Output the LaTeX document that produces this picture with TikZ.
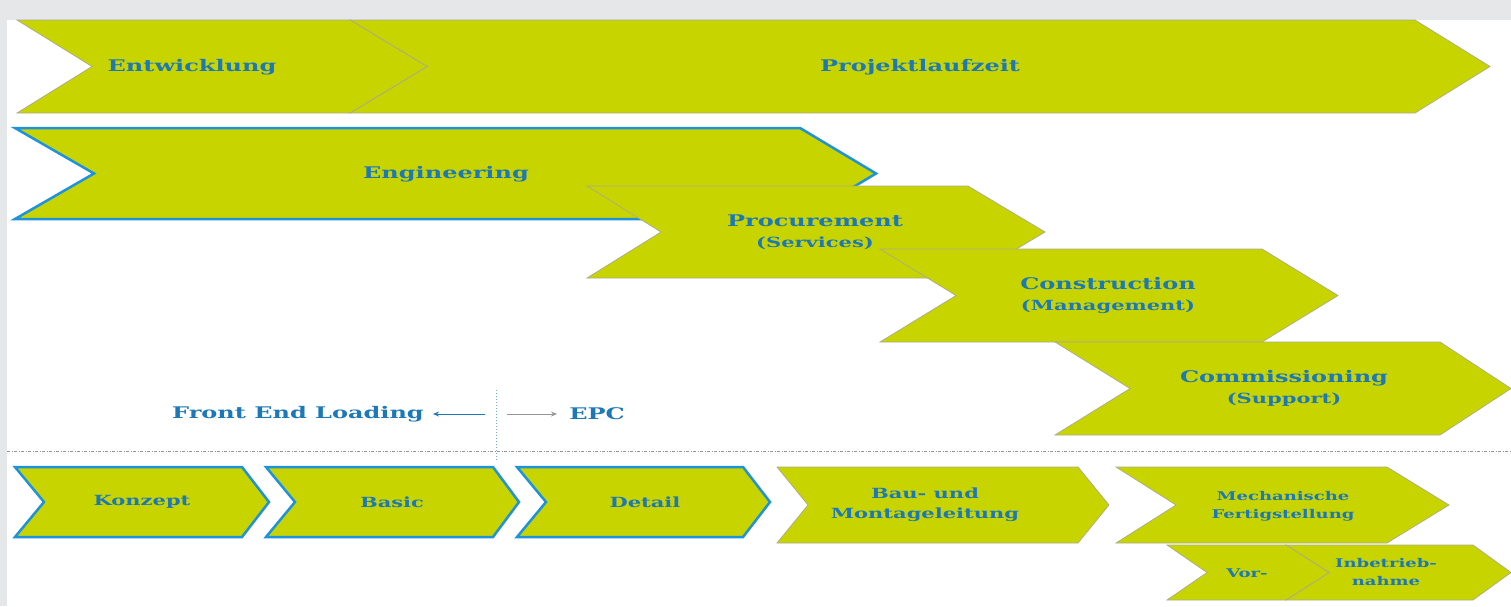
\documentclass[tikz,border=0pt]{standalone}
\usepackage{fontspec}
\usepackage{graphicx}
\newfontfamily\slab{DejaVu Serif}
\usetikzlibrary{arrows.meta}
\definecolor{lime}{RGB}{200,212,0}
\definecolor{txtblue}{RGB}{28,120,182}
\definecolor{edgeblue}{RGB}{30,146,218}
\definecolor{panelgray}{RGB}{230,231,233}
\definecolor{thinedge}{RGB}{170,170,140}
\definecolor{dashgray}{RGB}{150,150,150}
\definecolor{dotblue}{RGB}{120,170,210}
\newcommand{\wx}[1]{\scalebox{1.5}[1]{#1}}
\newcommand{\chv}[7][]{\draw[#1] (#2,#6) -- (#4,#6) -- (#5,{(#6+#7)/2}) -- (#4,#7) -- (#2,#7) -- (#3,{(#6+#7)/2}) -- cycle;}
\begin{document}
\begin{tikzpicture}[x=1pt,y=-1pt,
  chev/.style={fill=lime,draw=thinedge,line width=0.7pt,line join=miter},
  chevblue/.style={fill=lime,draw=edgeblue,line width=2.5pt,line join=miter},
  lbl/.style={text=txtblue,align=center,inner sep=0pt},
  biglbl/.style={lbl,font=\slab\bfseries\fontsize{16}{21}\selectfont},
  midlbl/.style={lbl,font=\slab\bfseries\fontsize{14}{20}\selectfont},
  smalllbl/.style={lbl,font=\slab\bfseries\fontsize{12}{18}\selectfont},
  bluearrow/.style={draw=txtblue,line width=1pt,-{Stealth[length=6pt,width=5pt]}},
  grayarrow/.style={draw=dashgray,line width=1pt,-{Stealth[length=6pt,width=5pt]}},
  divider/.style={draw=dotblue,line width=1pt,dotted},
  separator/.style={draw=dashgray,line width=0.8pt,dash pattern=on 3pt off 1.5pt on 1pt off 1.5pt}]
\useasboundingbox (0,0) rectangle (1511,606);
\fill[panelgray] (0,0) rectangle (1511,606);
\fill[white] (7,20) rectangle (1511,606);
% row 1
\chv[chev]{350}{427}{1415}{1490}{20}{113}
\chv[chev]{17}{92}{350}{427}{20}{113}
\node[biglbl] (entw) at (192,67) {\wx{Entwicklung}};
\node[biglbl] (projekt) at (920,67) {\wx{Projektlaufzeit}};
% EPC cascade
\chv[chevblue]{15}{94}{800}{876}{128}{219}
\chv[chev]{587}{661}{968}{1045}{186}{278}
\chv[chev]{880}{956}{1262}{1338}{249}{342}
\chv[chev]{1055}{1130}{1440}{1511}{342}{435}
\node[biglbl] (eng) at (446,174) {\wx{Engineering}};
\node[biglbl] (proc) at (815,232) {\wx{Procurement}\\\fontsize{14}{21}\selectfont\wx{(Services)}};
\node[biglbl] (constr) at (1108,295) {\wx{Construction}\\\fontsize{14}{21}\selectfont\wx{(Management)}};
\node[biglbl] (comm) at (1284,388) {\wx{Commissioning}\\\fontsize{14}{21}\selectfont\wx{(Support)}};
% FEL / EPC split
\node[biglbl] (fel) at (298,414) {\wx{Front End Loading}};
\node[biglbl] (epc) at (597,414) {\wx{EPC}};
\coordinate (divtop) at (496,390);
\coordinate (divbot) at (496,460);
\coordinate (felstart) at (485,414);
\coordinate (felend) at (433,414);
\coordinate (epcstart) at (507,414);
\coordinate (epcend) at (557,414);
\coordinate (sepl) at (7,451);
\coordinate (sepr) at (1511,451);
\draw[separator] (sepl) -- (sepr);
\draw[divider] (divtop) -- (divbot);
\draw[bluearrow] (felstart) -- (felend);
\draw[grayarrow] (epcstart) -- (epcend);
% bottom row
\chv[chevblue]{15}{44}{242}{269}{467}{537}
\chv[chevblue]{266}{295}{493}{519}{467}{537}
\chv[chevblue]{517}{546}{743}{770}{467}{537}
\chv[chev]{777}{808}{1078}{1109}{467}{543}
\chv[chev]{1116}{1176}{1387}{1449}{467}{543}
\chv[chev]{1286}{1329}{1473}{1511}{545}{600}
\chv[chev]{1167}{1207}{1286}{1329}{545}{600}
\node[midlbl] (konzept) at (142,502) {\wx{Konzept}};
\node[midlbl] (basic) at (392,502) {\wx{Basic}};
\node[midlbl] (detail) at (645,502) {\wx{Detail}};
\node[midlbl] (bau) at (925,505) {\wx{Bau- und}\\\wx{Montageleitung}};
\node[smalllbl] (mech) at (1283,506) {\wx{Mechanische}\\\wx{Fertigstellung}};
\node[smalllbl] (vor) at (1247,573) {\wx{Vor-}};
\node[smalllbl] (inbetrieb) at (1386,572) {\wx{Inbetrieb-}\\\wx{nahme}};
\end{tikzpicture}
\end{document}
